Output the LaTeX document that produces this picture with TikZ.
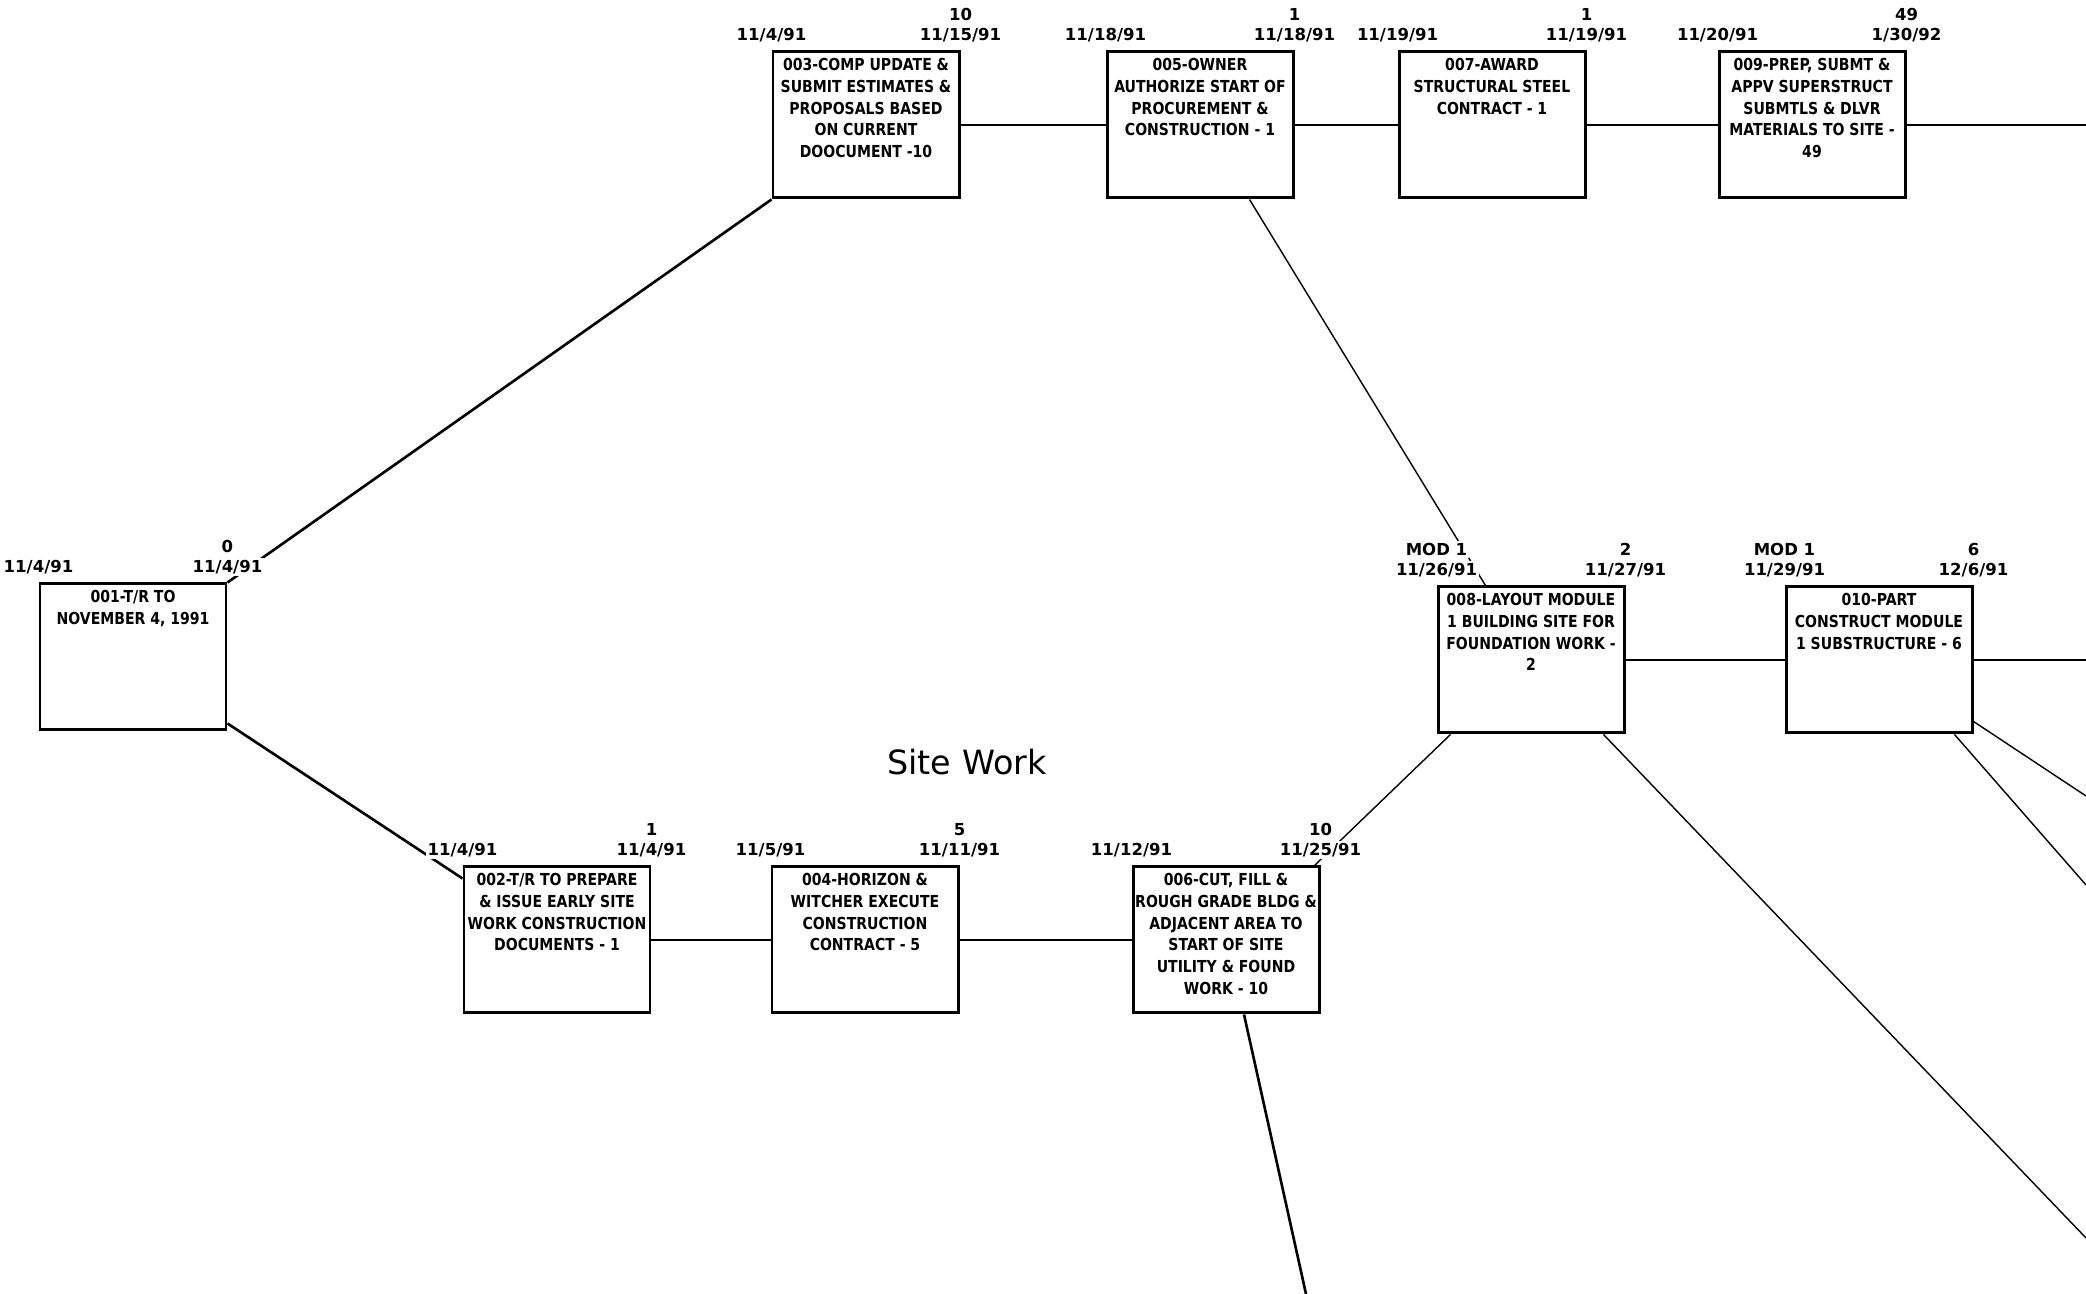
\documentclass[tikz,border=0pt]{standalone}
\usepackage{fontspec}
\setmainfont{DejaVu Sans}[FakeStretch=0.85]
\newfontfamily\sitefont{DejaVu Sans}
\newfontfamily\stampfont{DejaVu Sans}
\tikzset{
    act/.style={draw, line width=0.85pt, inner sep=0pt, minimum width=1.86cm, minimum height=1.46cm, font=\bfseries\fontsize{4.7}{6.2}\selectfont}, % 作业方框
    stamp/.style={fill=white, inner sep=0.6pt, font=\stampfont\bfseries\fontsize{4.7}{5}\selectfont}, % 日期与工期标注
    crit/.style={line width=0.75pt}, % 关键线路
    link/.style={line width=0.4pt} % 一般连线
}
\newcommand\acttext[1]{\parbox[c][1.46cm][t]{1.84cm}{\centering\rule{0pt}{5.3pt}#1}}

\begin{document}
\begin{tikzpicture}
    \def\xmax{20.86} \def\ymax{12.94}
    \useasboundingbox (0,0) rectangle (\xmax,\ymax);

    \node[act] (a001) at (1.33,6.37) {\acttext{001-T/R TO\\NOVEMBER 4, 1991}};
    \node[act] (a003) at (8.66,11.69) {\acttext{003-COMP UPDATE \&\\SUBMIT ESTIMATES \&\\PROPOSALS BASED\\ON CURRENT\\DOOCUMENT -10}};
    \node[act] (a005) at (12.00,11.69) {\acttext{005-OWNER\\AUTHORIZE START OF\\PROCUREMENT \&\\CONSTRUCTION - 1}};
    \node[act] (a007) at (14.92,11.69) {\acttext{007-AWARD\\STRUCTURAL STEEL\\CONTRACT - 1}};
    \node[act] (a009) at (18.12,11.69) {\acttext{009-PREP, SUBMT \&\\APPV SUPERSTRUCT\\SUBMTLS \& DLVR\\MATERIALS TO SITE -\\49}};
    \node[act] (a008) at (15.31,6.34) {\acttext{008-LAYOUT MODULE\\1 BUILDING SITE FOR\\FOUNDATION WORK -\\2}};
    \node[act] (a010) at (18.79,6.34) {\acttext{010-PART\\CONSTRUCT MODULE\\1 SUBSTRUCTURE - 6}};
    \node[act] (a002) at (5.57,3.54) {\acttext{002-T/R TO PREPARE\\\& ISSUE EARLY SITE\\WORK CONSTRUCTION\\DOCUMENTS - 1}};
    \node[act] (a004) at (8.65,3.54) {\acttext{004-HORIZON \&\\WITCHER EXECUTE\\CONSTRUCTION\\CONTRACT - 5}};
    \node[act] (a006) at (12.26,3.54) {\acttext{006-CUT, FILL \&\\ROUGH GRADE BLDG \&\\ADJACENT AREA TO\\START OF SITE\\UTILITY \& FOUND\\WORK - 10}};

    \node[font=\sitefont\fontsize{9.5}{11}\selectfont] (site) at (9.67,5.32) {Site Work};

    \coordinate (out009) at (\xmax,11.69);
    \coordinate (out010) at (\xmax,6.34);
    \coordinate (out010a) at (\xmax,4.98);
    \coordinate (out010b) at (\xmax,4.09);
    \coordinate (out008) at (\xmax,0.56);
    \coordinate (out006) at (13.06,0);

    \draw[crit] (a001.north east) -- (a003.south west);
    \draw[crit] ([yshift=0.08cm]a001.south east) -- ([yshift=-0.13cm]a002.north west);
    \draw[crit] (a003) -- (a005);
    \draw[crit] (a005) -- (a007);
    \draw[crit] (a007) -- (a009);
    \draw[crit] (a009.east) -- (out009);
    \draw[crit] (a002) -- (a004);
    \draw[crit] (a004) -- (a006);
    \draw[crit] ([xshift=0.18cm]a006.south) -- (out006);
    \draw[link] ([xshift=-0.45cm]a005.south east) -- ([xshift=0.49cm]a008.north west);
    \draw[link] ([xshift=-0.06cm]a006.north east) -- ([xshift=0.14cm]a008.south west);
    \draw[link] (a008) -- (a010);
    \draw[link] (a010.east) -- (out010);
    \draw[link] ([xshift=-0.22cm]a008.south east) -- (out008);
    \draw[link] ([yshift=0.13cm]a010.south east) -- (out010a);
    \draw[link] ([xshift=-0.19cm]a010.south east) -- (out010b);

    \foreach \n/\lt/\ld/\rt/\rd in {001/{}/{11/4/91}/0/{11/4/91}, 003/{}/{11/4/91}/10/{11/15/91},
        005/{}/{11/18/91}/1/{11/18/91}, 007/{}/{11/19/91}/1/{11/19/91}, 009/{}/{11/20/91}/49/{1/30/92},
        008/{MOD 1}/{11/26/91}/2/{11/27/91}, 010/{MOD 1}/{11/29/91}/6/{12/6/91},
        002/{}/{11/4/91}/1/{11/4/91}, 004/{}/{11/5/91}/5/{11/11/91}, 006/{}/{11/12/91}/10/{11/25/91}} {
        \node[stamp] (ld\n) at ([yshift=0.15cm]a\n.north west) {\ld};
        \node[stamp] (lt\n) at ([yshift=0.36cm]a\n.north west) {\lt};
        \node[stamp] (rd\n) at ([yshift=0.15cm]a\n.north east) {\rd};
        \node[stamp] (rt\n) at ([yshift=0.36cm]a\n.north east) {\rt};
    }
\end{tikzpicture}
\end{document}
